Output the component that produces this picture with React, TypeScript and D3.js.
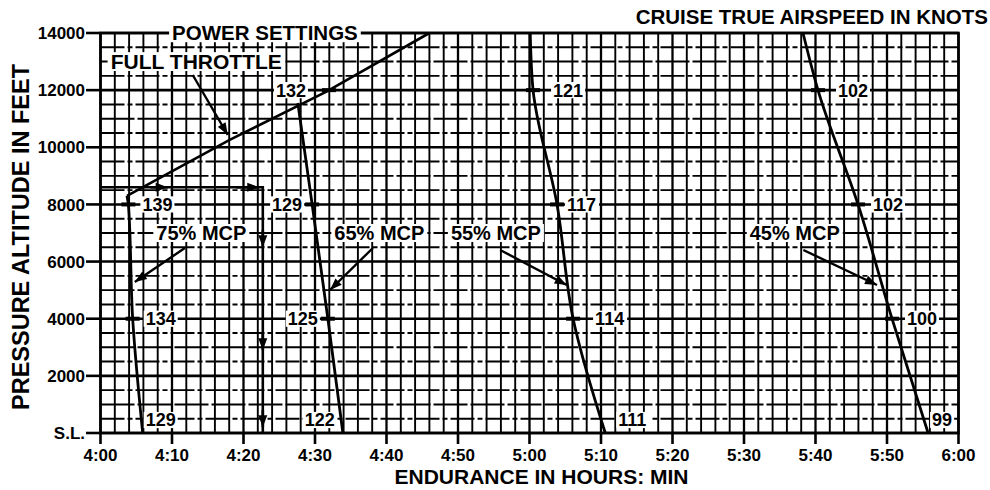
import React from "react";
import * as d3 from "d3";

// axis ticks
const xTicks = [240, 250, 260, 270, 280, 290, 300, 310, 320, 330, 340, 350, 360];
const xTickLabels = ["4:00", "4:10", "4:20", "4:30", "4:40", "4:50", "5:00", "5:10", "5:20", "5:30", "5:40", "5:50", "6:00"];
const yTicks = [0, 2000, 4000, 6000, 8000, 10000, 12000, 14000];
const yTickLabels = ["S.L.", "2000", "4000", "6000", "8000", "10000", "12000", "14000"];

// full throttle line (endurance in minutes, altitude in feet)
const ftMin = [243.7, 258.0, 271.6, 286.0];
const ftAlt = [8300, 10250, 11950, 14000];
const ftTasAlt = [12000];
const ftTas = [132];

// power setting curves
const mcp75Min = [243.7, 243.9, 244.5, 245.9];
const mcp75Alt = [8300, 8000, 4000, 0];
const mcp75TasAlt = [8000, 4000, 0];
const mcp75Tas = [139, 134, 129];

const mcp65Min = [267.6, 269.6, 271.8, 273.9];
const mcp65Alt = [11550, 8000, 4000, 0];
const mcp65TasAlt = [8000, 4000, 0];
const mcp65Tas = [129, 125, 122];

const mcp55Min = [300.1, 300.5, 303.85, 306.1, 310.6];
const mcp55Alt = [14000, 12000, 8000, 4000, 0];
const mcp55TasAlt = [12000, 8000, 4000, 0];
const mcp55Tas = [121, 117, 114, 111];

const mcp45Min = [338.25, 340.35, 345.95, 350.7, 355.75];
const mcp45Alt = [14000, 12000, 8000, 4000, 0];
const mcp45TasAlt = [12000, 8000, 4000, 0];
const mcp45Tas = [102, 102, 100, 99];

const mcpNames = ["75% MCP", "65% MCP", "55% MCP", "45% MCP"];

// label layout: side of curve and gap in px
const ftLabelGap = [-23];
const mcp75LabelGap = [14, 13, 3];
const mcp65LabelGap = [-10, -10, -8];
const mcp55LabelGap = [20, 10, 22, 13];
const mcp45LabelGap = [20, 15, 15, 4];

// annotations (data units)
const mcpLabelMin = [254.1, 279.0, 295.3, 337.1];
const mcpLabelAlt = 7000;
const mcpArrowFrom = [[251.8, 6475], [278.1, 6475], [295.9, 6405], [338.3, 6405]];
const mcpArrowTo = [[244.8, 5285], [272.1, 5005], [305.2, 5180], [348.6, 5180]];

const W = 990;
const H = 490;
const font = "'Liberation Sans', Arial, Helvetica, sans-serif";

function textWidth(s: string, size: number) {
  let w = 0;
  for (const c of s) {
    if (/[0-9]/.test(c)) w += 0.556;
    else if (c === " " || c === "." || c === "I") w += 0.278;
    else if (c === "%") w += 0.889;
    else if (c === ":") w += 0.333;
    else if ("LFT".includes(c)) w += 0.611;
    else if (c === "M") w += 0.833;
    else if (c === "W") w += 0.944;
    else if ("EPSK".includes(c)) w += 0.667;
    else if ("OG".includes(c)) w += 0.778;
    else w += 0.722;
  }
  return w * size;
}

const Boxed = ({ cx, cy, text, size, anchor = "middle", pad = 3 }: any) => {
  const w = textWidth(text, size);
  const left = anchor === "middle" ? cx - w / 2 : anchor === "start" ? cx : cx - w;
  return (
    <g>
      <rect x={left - pad} y={cy - size * 0.45} width={w + pad * 2} height={size * 0.9} fill="#fff" />
      <text x={cx} y={cy} dy="0.36em" textAnchor={anchor} fontSize={size} fontWeight="bold" fontFamily={font} fill="#000">
        {text}
      </text>
    </g>
  );
};

export default function App() {
  const x = d3.scaleLinear().domain([240, 360]).range([100.5, 958.5]);
  const y = d3.scaleLinear().domain([0, 14000]).range([433, 33]);

  const smooth = d3
    .line<[number, number]>()
    .x(d => x(d[0]))
    .y(d => y(d[1]))
    .curve(d3.curveMonotoneY);
  const straight = d3
    .line<[number, number]>()
    .x(d => x(d[0]))
    .y(d => y(d[1]));

  const zip = (a: number[], b: number[]) => a.map((v, i) => [v, b[i]] as [number, number]);

  const curves = [
    { min: mcp75Min, alt: mcp75Alt, tasAlt: mcp75TasAlt, tas: mcp75Tas, gap: mcp75LabelGap },
    { min: mcp65Min, alt: mcp65Alt, tasAlt: mcp65TasAlt, tas: mcp65Tas, gap: mcp65LabelGap },
    { min: mcp55Min, alt: mcp55Alt, tasAlt: mcp55TasAlt, tas: mcp55Tas, gap: mcp55LabelGap },
    { min: mcp45Min, alt: mcp45Alt, tasAlt: mcp45TasAlt, tas: mcp45Tas, gap: mcp45LabelGap },
    { min: ftMin, alt: ftAlt, tasAlt: ftTasAlt, tas: ftTas, gap: ftLabelGap, ft: true },
  ];

  const vGrid = d3.range(240, 361, 2);
  const hGrid = d3.range(0, 14001, 500);
  const [x0, x1] = x.range();
  const [yb, yt] = y.range();

  const exampleAlt = 8600;
  const exampleTurn = 262.7;

  return (
    <div style={{ position: "absolute", left: 0, top: 0 }}>
      <svg width={W} height={H} style={{ display: "block", background: "#fff" }}>
        <defs>
          <marker id="ah" viewBox="0 0 12 10" refX="12" refY="5" markerWidth="13" markerHeight="10" markerUnits="userSpaceOnUse" orient="auto">
            <path d="M0,0.5 L12,5 L0,9.5 Z" fill="#000" />
          </marker>
        </defs>

        {/* grid */}
        <g stroke="#000">
          {hGrid.map(a => (
            <line
              key={"h" + a}
              x1={x0}
              x2={x1}
              y1={y(a)}
              y2={y(a)}
              strokeWidth={a % 2000 === 0 ? 2.6 : 1.9}
              strokeDasharray={a % 2000 === 0 ? undefined : a % 1000 === 0 ? "34 3" : "24 3 5 3"}
            />
          ))}
          {vGrid.map(m => (
            <line key={"v" + m} x1={x(m)} x2={x(m)} y1={yb} y2={yt} strokeWidth={m % 10 === 0 ? 2.3 : 1.9} />
          ))}
          <rect x={x0} y={yt} width={x1 - x0} height={yb - yt} fill="none" strokeWidth={2.6} />
        </g>

        {/* y axis */}
        <g>
          {yTicks.map((t, i) => (
            <g key={"yt" + t}>
              <line x1={86} x2={x0} y1={y(t)} y2={y(t)} stroke="#000" strokeWidth={2.6} />
              <text x={85} y={y(t)} dy="0.36em" textAnchor="end" fontSize={17} fontWeight="bold" fontFamily={font}>
                {yTickLabels[i]}
              </text>
            </g>
          ))}
          <text
            transform={`translate(29,${(yb + yt) / 2 + 4}) rotate(-90)`}
            textAnchor="middle"
            fontSize={23.5}
            fontWeight="bold"
            fontFamily={font}
          >
            PRESSURE ALTITUDE IN FEET
          </text>
        </g>

        {/* x axis */}
        <g>
          {xTicks.map((t, i) => (
            <g key={"xt" + t}>
              <line x1={x(t)} x2={x(t)} y1={yb} y2={yb + 11} stroke="#000" strokeWidth={2.6} />
              <text x={x(t)} y={461} textAnchor="middle" fontSize={17} fontWeight="bold" fontFamily={font}>
                {xTickLabels[i]}
              </text>
            </g>
          ))}
          <text x={(x0 + x1) / 2 + 12} y={484} textAnchor="middle" fontSize={21} fontWeight="bold" fontFamily={font}>
            ENDURANCE IN HOURS: MIN
          </text>
        </g>

        <text x={988} y={24} textAnchor="end" fontSize={20.5} fontWeight="bold" fontFamily={font}>
          CRUISE TRUE AIRSPEED IN KNOTS
        </text>

        {/* example path */}
        <g stroke="#000" strokeWidth={2.6} fill="none">
          <path d={straight([[240, exampleAlt], [exampleTurn, exampleAlt], [exampleTurn, 0]]) || ""} />
          <line x1={x(247)} x2={x(249.4)} y1={y(exampleAlt)} y2={y(exampleAlt)} markerEnd="url(#ah)" />
          <line x1={x(259)} x2={x(262.2)} y1={y(exampleAlt)} y2={y(exampleAlt)} markerEnd="url(#ah)" />
          {[6500, 2900, 200].map(a => (
            <line key={"ea" + a} x1={x(exampleTurn)} x2={x(exampleTurn)} y1={y(a + 600)} y2={y(a)} markerEnd="url(#ah)" />
          ))}
        </g>

        {/* curves */}
        <g fill="none" stroke="#000">
          <path d={straight(zip(ftMin, ftAlt)) || ""} strokeWidth={2.6} />
          {curves
            .filter(c => !c.ft)
            .map((c, i) => (
              <path key={"c" + i} d={smooth(zip(c.min, c.alt)) || ""} strokeWidth={2.8} />
            ))}
        </g>

        {/* airspeed labels */}
        {curves.map((c, ci) => {
          const order = c.alt.map((a, i) => i).sort((a, b) => c.alt[a] - c.alt[b]);
          const at = d3
            .scaleLinear()
            .domain(order.map(i => c.alt[i]))
            .range(order.map(i => c.min[i]));
          return c.tasAlt.map((a, i) => {
            const cx = x(at(a));
            const cy = y(a);
            const g = c.gap[i];
            const s = String(c.tas[i]);
            const sl = a === 0;
            return (
              <g key={"l" + ci + "-" + i}>
                {!sl && <line x1={cx - 7} x2={cx + 7} y1={cy} y2={cy} stroke="#000" strokeWidth={4} />}
                <Boxed cx={cx + g} cy={sl ? cy - 13 : cy} text={s} size={18} anchor={g > 0 ? "start" : "end"} pad={2} />
              </g>
            );
          });
        })}

        {/* power setting annotations */}
        {mcpNames.map((n, i) => (
          <g key={"m" + i}>
            <Boxed cx={x(mcpLabelMin[i])} cy={y(mcpLabelAlt)} text={n} size={20} />
            <line
              x1={x(mcpArrowFrom[i][0])}
              y1={y(mcpArrowFrom[i][1])}
              x2={x(mcpArrowTo[i][0])}
              y2={y(mcpArrowTo[i][1])}
              stroke="#000"
              strokeWidth={2.4}
              markerEnd="url(#ah)"
            />
          </g>
        ))}

        <Boxed cx={x(253.4)} cy={y(13000)} text="FULL THROTTLE" size={21} />
        <line x1={x(252.9)} y1={y(12530)} x2={x(257.8)} y2={y(10430)} stroke="#000" strokeWidth={2.4} markerEnd="url(#ah)" />
        <Boxed cx={x(263)} cy={y(14000)} text="POWER SETTINGS" size={20.5} />
      </svg>
    </div>
  );
}
